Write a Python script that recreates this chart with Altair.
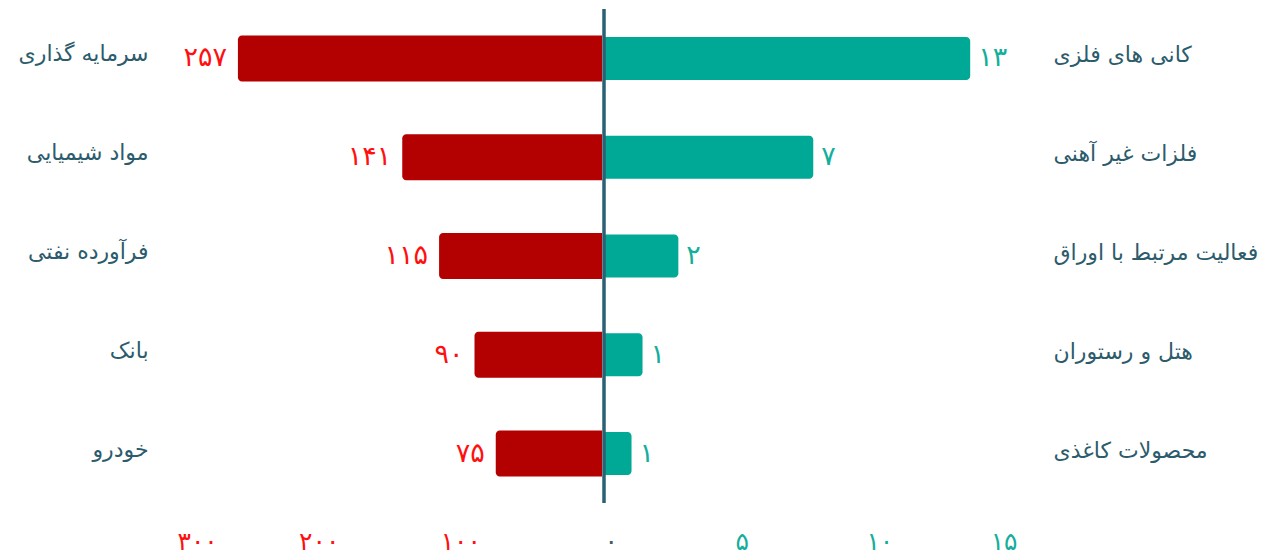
import altair as alt
import pandas as pd

# Left side (red) data
left_cats = ["سرمایه گذاری", "مواد شیمیایی", "فرآورده نفتی", "بانک", "خودرو"]
left_vals = [257, 141, 115, 90, 75]
left_labels = ["۲۵۷", "۱۴۱", "۱۱۵", "۹۰", "۷۵"]

# Right side (teal) data
right_cats = ["کانی های فلزی", "فلزات غیر آهنی", "فعالیت مرتبط با اوراق", "هتل و رستوران", "محصولات کاغذی"]
right_vals = [13.3, 7.6, 2.7, 1.4, 1.0]
right_labels = ["۱۳", "۷", "۲", "۱", "۱"]

# Axis ticks
left_ticks = [100, 200, 300]
left_tick_labels = ["۱۰۰", "۲۰۰", "۳۰۰"]
right_ticks = [0, 5, 10, 15]
right_tick_labels = ["۰", "۵", "۱۰", "۱۵"]

RED = "#b30000"
RED_TXT = "#ff1010"
TEAL = "#00a896"
TEAL_TXT = "#14ae9c"
SLATE = "#2c5b6c"
FONT = "DejaVu Sans"


def label_expr(ticks, labels):
    expr = "''"
    for t, l in reversed(list(zip(ticks, labels))):
        expr = f"datum.value == {t} ? '{l}' : ({expr})"
    return expr


left_df = pd.DataFrame({"cat": left_cats, "val": left_vals, "lab": left_labels, "zero": 0})
right_df = pd.DataFrame({"cat": right_cats, "val": right_vals, "lab": right_labels, "zero": 0})

y_scale = alt.Scale(paddingInner=0, paddingOuter=0)

left_x = alt.X(
    "val:Q",
    scale=alt.Scale(domain=[0, 300], reverse=True, nice=False),
    axis=alt.Axis(
        values=left_ticks,
        labelExpr=label_expr(left_ticks, left_tick_labels),
        title=None, grid=False, domain=False, ticks=False,
        labelPadding=26, labelFontSize=25, labelColor=RED_TXT, labelFont=FONT,
    ),
)
left_y = alt.Y(
    "cat:N", sort=left_cats, scale=y_scale,
    axis=alt.Axis(
        orient="left", title=None, domain=False, ticks=False, grid=False,
        labelAlign="right", labelPadding=29, labelFontSize=22, labelColor=SLATE,
        labelFont=FONT, labelLimit=300, labelBaseline="middle", labelOffset=-4,
    ),
)

left_base = alt.Chart(left_df)
left_bars = left_base.mark_bar(
    color=RED, size=46, cornerRadiusTopLeft=4, cornerRadiusBottomLeft=4
).encode(x=left_x, x2="zero:Q", y=left_y)
left_text = left_base.mark_text(
    align="right", baseline="middle", dx=-11, fontSize=27, color=RED_TXT, font=FONT
).encode(x="val:Q", y=alt.Y("cat:N", sort=left_cats), text="lab:N")
left = alt.layer(left_bars, left_text).properties(width=425, height=494)

right_x = alt.X(
    "val:Q",
    scale=alt.Scale(domain=[0, 15], nice=False),
    axis=alt.Axis(
        values=right_ticks,
        labelExpr=label_expr(right_ticks, right_tick_labels),
        title=None, grid=False, domain=False, ticks=False,
        labelPadding=26, labelFontSize=25, labelFont=FONT,
        labelColor=alt.condition("datum.value == 0", alt.value("#3d5b6b"), alt.value(TEAL_TXT)),
    ),
)
right_y = alt.Y(
    "cat:N", sort=right_cats, scale=y_scale,
    axis=alt.Axis(
        orient="right", title=None, domain=False, ticks=False, grid=False,
        labelAlign="left", labelPadding=36, labelFontSize=22, labelColor=SLATE,
        labelFont=FONT, labelLimit=300, labelBaseline="middle", labelOffset=-3,
    ),
)

right_base = alt.Chart(right_df)
right_bars = right_base.mark_bar(
    color=TEAL, size=43, cornerRadiusTopRight=4, cornerRadiusBottomRight=4
).encode(x=right_x, x2="zero:Q", y=right_y)
right_text = right_base.mark_text(
    align="left", baseline="middle", dx=8, fontSize=27, color=TEAL_TXT, font=FONT
).encode(x="val:Q", y=alt.Y("cat:N", sort=right_cats), text="lab:N")
center_rule = alt.Chart(pd.DataFrame({"v": [0]})).mark_rule(
    color="#2a6274", strokeWidth=3.5
).encode(x="v:Q")
right = alt.layer(right_bars, right_text, center_rule).properties(width=413, height=494)

chart = (
    alt.hconcat(left, right, spacing=0)
    .resolve_scale(x="independent", y="independent")
    .configure_view(stroke=None)
    .properties(padding={"top": 7, "left": 18, "right": 0, "bottom": 0})
)

chart.save("out.html", embed_options={"renderer": "svg", "actions": False})
